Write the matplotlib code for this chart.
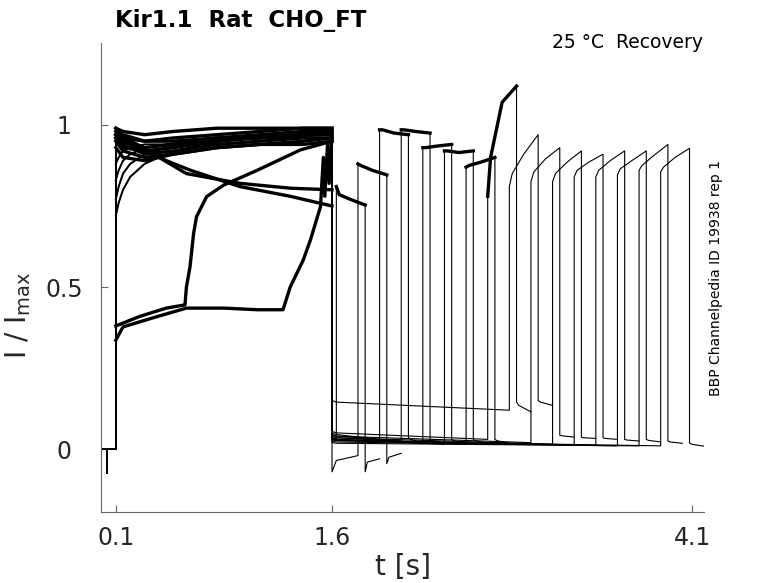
import numpy as np
import matplotlib.pyplot as plt

# holding level before the prepulse (same for every sweep)
hold_t = [0.0, 0.039, 0.040, 0.041, 0.1]
hold_v = [0.0, 0.0, -0.075, 0.0, 0.0]

# prepulse 0.1 - 1.6 s, traces
band_t = [0.1, 0.15, 0.3, 0.5, 0.8, 1.1, 1.4, 1.6]
band_v = [
    [0.99, 0.98, 0.97, 0.98, 0.99, 0.99, 0.99, 0.99],
    [0.98, 0.96, 0.95, 0.96, 0.97, 0.98, 0.99, 0.99],
    [0.97, 0.95, 0.93, 0.94, 0.96, 0.97, 0.98, 0.98],
    [0.96, 0.93, 0.92, 0.93, 0.95, 0.96, 0.97, 0.97],
    [0.99, 0.97, 0.95, 0.95, 0.96, 0.96, 0.97, 0.98],
    [0.95, 0.92, 0.90, 0.91, 0.93, 0.94, 0.95, 0.96],
    [0.97, 0.94, 0.91, 0.92, 0.94, 0.95, 0.96, 0.96],
    [0.93, 0.90, 0.89, 0.91, 0.93, 0.94, 0.94, 0.95],
]
rise_t = [0.1, 0.12, 0.15, 0.2, 0.3, 0.45, 0.7, 1.0, 1.6]
rise_v = [
    [0.72, 0.76, 0.80, 0.84, 0.88, 0.91, 0.94, 0.96, 0.98],
    [0.77, 0.81, 0.85, 0.88, 0.91, 0.93, 0.95, 0.96, 0.97],
    [0.83, 0.86, 0.89, 0.91, 0.93, 0.94, 0.95, 0.96, 0.96],
    [0.88, 0.90, 0.92, 0.93, 0.94, 0.94, 0.95, 0.96, 0.97],
]
decl1_t = [0.1, 0.2, 0.3, 0.45, 0.62, 0.96, 1.31, 1.6]
decl1_v = [0.96, 0.94, 0.92, 0.89, 0.86, 0.81, 0.78, 0.75]
decl2_t = [0.1, 0.25, 0.4, 0.59, 0.96, 1.31, 1.6]
decl2_v = [0.97, 0.94, 0.90, 0.85, 0.82, 0.805, 0.80]
sig_t = [0.1, 0.27, 0.45, 0.58, 0.59, 0.615, 0.64, 0.66, 0.73, 0.85, 1.08, 1.38, 1.6]
sig_v = [0.38, 0.41, 0.435, 0.445, 0.50, 0.563, 0.666, 0.717, 0.779, 0.815, 0.86, 0.923, 0.95]
ramp_t = [0.1, 0.15, 0.38, 0.59, 0.85, 1.08, 1.26, 1.31, 1.40, 1.45, 1.52, 1.54, 1.55, 1.57, 1.58, 1.6]
ramp_v = [0.336, 0.377, 0.408, 0.435, 0.435, 0.43, 0.43, 0.50, 0.583, 0.645, 0.748, 0.90, 0.78, 0.95, 0.82, 0.97]

# recovery test pulses (one per sweep)
pulse_on = [1.63, 1.78, 1.93, 2.08, 2.23, 2.38, 2.53, 2.68,
            2.83, 2.98, 3.13, 3.28, 3.43, 3.58, 3.73, 3.88]
pulse_len = 0.2
tail_len = 0.1

gap_start = [0.03, -0.07, 0.05, 0.045, 0.04, 0.035, 0.03, 0.055,
             0.15, 0.045, 0.04, 0.035, 0.03, 0.025, 0.02, 0.03]
gap_mid = [0.03, -0.035, 0.045, 0.04, 0.035, 0.03, 0.027, 0.05,
           0.145, 0.04, 0.035, 0.03, 0.027, 0.022, 0.018, 0.026]
gap_end = [0.03, -0.02, 0.03, 0.025, 0.02, 0.015, 0.015, 0.03,
           0.12, 0.02, 0.015, 0.012, 0.012, 0.01, 0.01, 0.01]

p_a = [0.81, 0.88, 0.985, 0.985, 0.93, 0.92, 0.87, 0.78,
       0.81, 0.825, 0.825, 0.84, 0.84, 0.846, 0.86, 0.856]
p_b = [0.785, 0.875, 0.985, 0.985, 0.93, 0.92, 0.875, 0.90,
       0.85, 0.855, 0.85, 0.86, 0.86, 0.865, 0.875, 0.87]
p_c = [0.77, 0.86, 0.975, 0.98, 0.935, 0.915, 0.885, 1.07,
       0.91, 0.895, 0.885, 0.885, 0.89, 0.89, 0.905, 0.90]
p_d = [0.753, 0.846, 0.97, 0.975, 0.94, 0.92, 0.90, 1.12,
       0.97, 0.93, 0.92, 0.91, 0.92, 0.92, 0.94, 0.928]

tail_a = [-0.07, -0.045, 0.035, 0.03, 0.03, 0.03, 0.03, 0.145,
          0.15, 0.043, 0.037, 0.035, 0.03, 0.03, 0.025, 0.019]
tail_m = [-0.04, -0.025, 0.03, 0.026, 0.026, 0.026, 0.026, 0.135,
          0.145, 0.041, 0.035, 0.033, 0.028, 0.027, 0.022, 0.015]
tail_b = [-0.03, -0.013, 0.02, 0.018, 0.018, 0.018, 0.018, 0.115,
          0.135, 0.037, 0.033, 0.03, 0.025, 0.022, 0.018, 0.009]

# which prepulse trace belongs to which sweep
pre_traces = {
    0: (decl1_t, decl1_v), 1: (decl2_t, decl2_v),
    5: (sig_t, sig_v), 7: (ramp_t, ramp_v),
    9: (rise_t, rise_v[0]), 11: (rise_t, rise_v[1]),
    13: (rise_t, rise_v[2]), 15: (rise_t, rise_v[3]),
}
for k, i in zip([2, 3, 4, 6, 8, 10, 12, 14], range(8)):
    pre_traces[k] = (band_t, band_v[i])
risers = [9, 11, 13, 15]


def build_sweep(k):
    pre_t, pre_v = pre_traces[k]
    on = pulse_on[k]
    t = list(hold_t) + list(pre_t) + [1.6]
    v = list(hold_v) + list(pre_v) + [gap_start[k]]
    if on > 1.64:
        t.append(1.63)
        v.append(gap_mid[k])
    t += [on, on, on + 0.02, on + 0.1, on + pulse_len, on + pulse_len,
          on + pulse_len + 0.015, on + pulse_len + tail_len]
    v += [gap_end[k], p_a[k], p_b[k], p_c[k], p_d[k], tail_a[k], tail_m[k], tail_b[k]]
    return t, v


fig = plt.figure(figsize=(7.78, 5.83), dpi=100)
ax = fig.add_axes([0.1303, 0.1218, 0.7745, 0.8045])

for k in range(len(pulse_on)):
    t, v = build_sweep(k)
    ax.plot(t, v, color='black', lw=0.8)
    # noisy parts of the recording look thicker
    pre_t, pre_v = pre_traces[k]
    ax.plot(pre_t, pre_v, color='black', lw=1.4 if k in risers else 2.4)
    if k <= 7:
        on = pulse_on[k]
        ax.plot([on, on + 0.02, on + 0.1, on + pulse_len],
                [p_a[k], p_b[k], p_c[k], p_d[k]], color='black', lw=2.4)

ax.set_xlim(0, 4.18)
ax.set_ylim(-0.194, 1.253)
ax.set_xticks([0.1, 1.6, 4.1])
ax.set_xticklabels(['0.1', '1.6', '4.1'])
ax.set_yticks([0, 0.5, 1])
ax.set_yticklabels(['0', '0.5', '1'])
for s in ['top', 'right']:
    ax.spines[s].set_visible(False)
for s in ['left', 'bottom']:
    ax.spines[s].set_color('#666666')
    ax.spines[s].set_linewidth(0.8)
ax.tick_params(direction='in', length=5, width=0.8, color='#666666',
               labelcolor='#262626', labelsize=17)
ax.tick_params(axis='y', pad=27)
ax.tick_params(axis='x', pad=10)
for lbl in ax.get_yticklabels():
    lbl.set_ha('center')

ax.set_xlabel('t [s]', fontsize=20, color='#262626', va='center')
ax.xaxis.set_label_coords(0.5, (512 - 567) / 469)
ax.set_ylabel(r'I / I$_{\mathrm{max}}$', fontsize=20, color='#262626', va='center', ha='center')
ax.yaxis.set_label_coords((18 - 101.4) / 602.6, (512 - 315) / 469)

fig.text(115 / 778, 1 - 27 / 583, 'Kir1.1  Rat  CHO_FT', fontsize=16.5,
         fontweight='bold', ha='left', va='baseline')
fig.text(703 / 778, 1 - 47.7 / 583, '25 °C  Recovery', fontsize=13.5,
         ha='right', va='baseline')
fig.text(716 / 778, 1 - 277.5 / 583, 'BBP Channelpedia ID 19938 rep 1',
         rotation=90, fontsize=10, ha='center', va='center')

fig.savefig('out.png', dpi=100)
